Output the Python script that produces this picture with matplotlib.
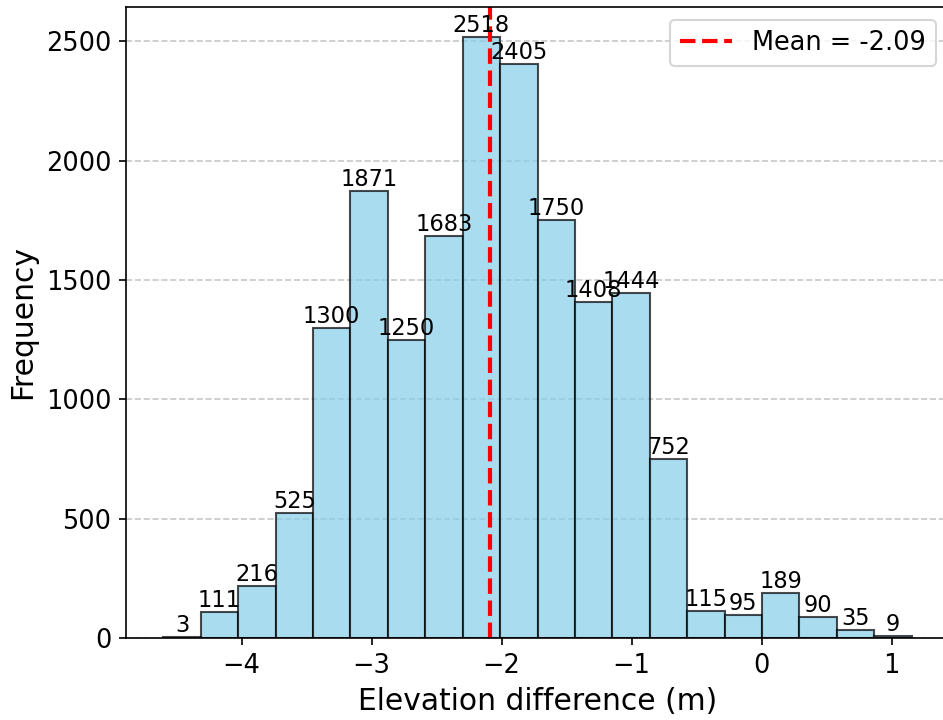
import matplotlib
matplotlib.use("Agg")
import matplotlib.pyplot as plt
import numpy as np

# histogram of elevation differences (20 bins)
counts = [3, 111, 216, 525, 1300, 1871, 1250, 1683, 2518, 2405,
          1750, 1408, 1444, 752, 115, 95, 189, 90, 35, 9]
edge_min = -4.601
edge_max = 1.153
mean_val = -2.09

edges = np.linspace(edge_min, edge_max, len(counts) + 1)
widths = np.diff(edges)

fig = plt.figure(figsize=(943 / 150, 720 / 150), dpi=150)
ax = fig.add_axes([0.1336, 0.1139, 0.8728, 0.8764])

bars = ax.bar(edges[:-1], counts, width=widths, align='edge',
              color='skyblue', edgecolor='black', alpha=0.7, linewidth=1.0)

for b, c in zip(bars, counts):
    ax.text(b.get_x() + b.get_width() / 2, c, str(c),
            ha='center', va='bottom', fontsize=10.8)

ax.axvline(mean_val, color='red', linestyle='--', linewidth=2,
           label='Mean = %.2f' % mean_val)

ax.set_xlabel("Elevation difference (m)", fontsize=14.3)
ax.set_ylabel("Frequency", fontsize=14.3)
ax.tick_params(labelsize=12.3)
ax.grid(axis='y', linestyle='--', alpha=0.7)
ax.set_axisbelow(True)
ax.legend(fontsize=12.3, loc='upper right')

fig.savefig("out.png", dpi=150)
